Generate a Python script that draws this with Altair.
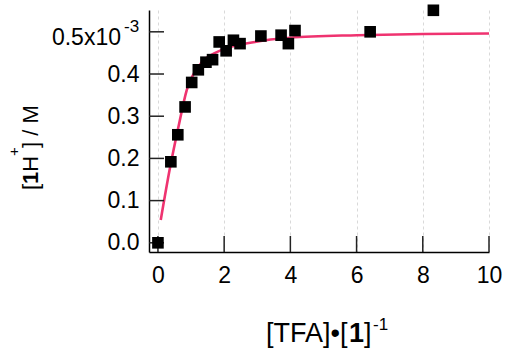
import altair as alt
import pandas as pd

# observed data: [TFA]/[1] ratio vs [1H+] (units of 10^-3 M)
x_obs = [0.0, 0.39, 0.60, 0.82, 1.02, 1.22, 1.45, 1.65, 1.85, 2.06, 2.28, 2.48,
         3.11, 3.72, 3.94, 4.14, 6.41, 8.32]
y_obs = [0.0, 0.192, 0.256, 0.322, 0.380, 0.410, 0.428, 0.434, 0.476, 0.455, 0.480, 0.472,
         0.490, 0.492, 0.472, 0.503, 0.500, 0.551]

# fitted curve
x_fit = [0.085, 0.37, 0.62, 0.87, 1.22, 1.78, 2.93, 3.99, 6.01, 8.02, 10.0]
y_fit = [0.054, 0.180, 0.275, 0.362, 0.417, 0.452, 0.476, 0.486, 0.492, 0.495, 0.496]

x_ticks = [0, 2, 4, 6, 8, 10]
y_ticks = [0.0, 0.1, 0.2, 0.3, 0.4, 0.5]

FONT = "Liberation Sans"

obs = pd.DataFrame({"x": x_obs, "y": y_obs})
fit = pd.DataFrame({"x": x_fit, "y": y_fit})

xscale = alt.Scale(domain=[-0.27, 10], nice=False, zero=False)
yscale = alt.Scale(domain=[-0.0218, 0.5517], nice=False, zero=False)

x_enc = alt.X("x:Q", scale=xscale, title=None,
              axis=alt.Axis(values=x_ticks, format="d", grid=True, gridDash=[3, 3],
                            gridColor="#d9d9d9", gridWidth=1, ticks=False, tickSize=0,
                            labelFont=FONT, labelFontSize=23, labelColor="#000",
                            labelPadding=12, labelFlush=False, labelOverlap=False,
                            domainColor="#000", domainWidth=1.5))
y_enc = alt.Y("y:Q", scale=yscale, title=None,
              axis=alt.Axis(values=y_ticks, grid=False, ticks=False, tickSize=0,
                            labelExpr="datum.value > 0.45 ? '' : format(datum.value, '.1f')",
                            labelFont=FONT, labelFontSize=23, labelColor="#000",
                            labelPadding=10, labelFlush=False, labelOverlap=False,
                            domainColor="#000", domainWidth=1.5))

line = alt.Chart(fit).mark_line(color="#ef3370", strokeWidth=2.6,
                                interpolate="monotone").encode(x=x_enc, y=y_enc)

pts = alt.Chart(obs).mark_point(shape="square", filled=True, size=135, color="#000",
                                opacity=1, clip=False).encode(x=x_enc, y=y_enc)

ytick_rules = alt.Chart(pd.DataFrame({"y": y_ticks})).mark_rule(
    color="#222", strokeWidth=1.5).encode(y=y_enc, x=alt.value(0), x2=alt.value(15))
xtick_rules = alt.Chart(pd.DataFrame({"x": x_ticks})).mark_rule(
    color="#222", strokeWidth=1.5).encode(x=x_enc, y=alt.value(242), y2=alt.value(226))

one = pd.DataFrame({"k": [0]})


def txt(s, px, py, size, weight="normal", angle=0, align="left"):
    return alt.Chart(one).mark_text(text=s, font=FONT, fontSize=size, fontWeight=weight,
                                    angle=angle, align=align, baseline="alphabetic",
                                    color="#000").encode(x=alt.value(px), y=alt.value(py))


labels = [
    # y tick label with exponent
    txt("0.5x10", -28, 35, 23, align="right"),
    txt("-3", -25, 21.5, 17),
    # y title: [1H+] / M
    txt("[", -111, 180, 22, angle=270),
    txt("1", -111, 173.9, 22, weight="bold", angle=270),
    txt("H", -111, 161.7, 22, angle=270),
    txt("+", -130, 146, 15, angle=270),
    txt("] / M", -111, 138, 22, angle=270),
    # x title: [TFA]•[1]-1
    txt("[TFA]•[", 117, 332, 27),
    txt("1", 200, 332, 27, weight="bold"),
    txt("]", 215, 332, 27),
    txt("-1", 224, 320, 17),
]

chart = alt.layer(line, ytick_rules, xtick_rules, pts, *labels).properties(
    width=340, height=242,
    autosize=alt.AutoSizeParams(type="none"),
    padding={"left": 149, "top": 10, "right": 16, "bottom": 97},
    background="white",
).configure_view(stroke=None)

chart.save("out.html", embed_options={"renderer": "svg", "actions": False})
